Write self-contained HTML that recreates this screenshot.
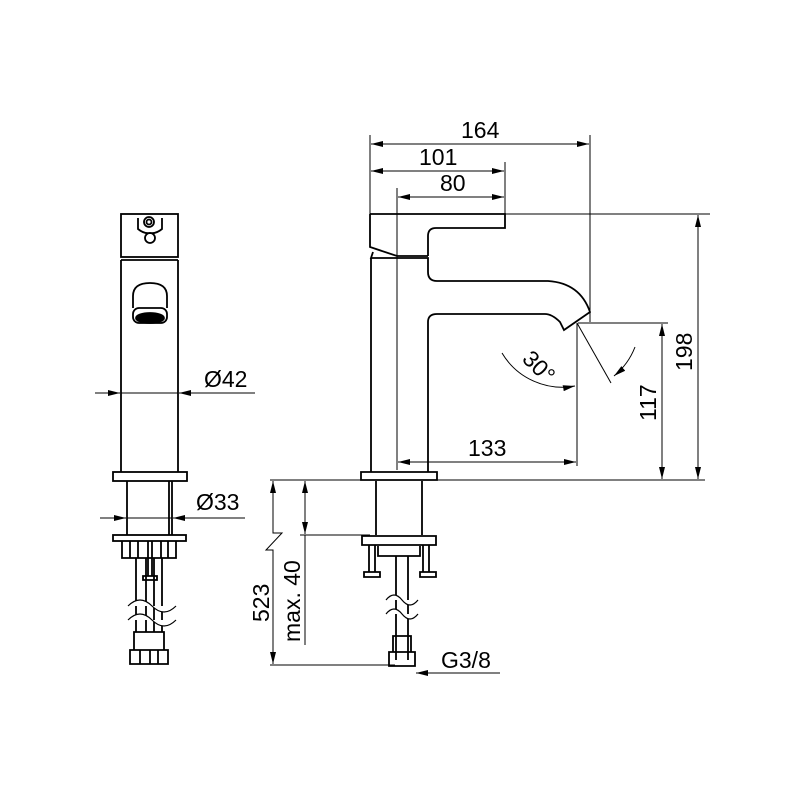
<!DOCTYPE html>
<html><head><meta charset="utf-8"><style>html,body{margin:0;padding:0;background:#fff}svg{display:block}text{font-family:"Liberation Sans",sans-serif;font-size:23px;fill:#000}</style></head><body>
<svg width="800" height="800" viewBox="0 0 800 800" xmlns="http://www.w3.org/2000/svg">
<defs>
<marker id="a" viewBox="0 0 12 6" refX="12" refY="3" markerWidth="12" markerHeight="6" orient="auto-start-reverse" markerUnits="userSpaceOnUse"><path d="M0,0L12,3L0,6Z" fill="#000"/></marker>
</defs>
<g fill="none" stroke="#000" stroke-width="1">
<line x1="370" y1="135" x2="370" y2="214"/>
<line x1="590" y1="135" x2="590" y2="322"/>
<line x1="505" y1="162" x2="505" y2="214"/>
<line x1="397" y1="188" x2="397" y2="470"/>
<line x1="371" y1="144" x2="589" y2="144" marker-start="url(#a)" marker-end="url(#a)"/>
<line x1="371" y1="171" x2="504" y2="171" marker-start="url(#a)" marker-end="url(#a)"/>
<line x1="398" y1="197" x2="504" y2="197" marker-start="url(#a)" marker-end="url(#a)"/>
<line x1="505" y1="214" x2="710" y2="214"/>
<line x1="578" y1="323" x2="668" y2="323"/>
<line x1="577" y1="323" x2="577" y2="466"/>
<line x1="398" y1="462" x2="576" y2="462" marker-start="url(#a)" marker-end="url(#a)"/>
<line x1="662" y1="324" x2="662" y2="479" marker-start="url(#a)" marker-end="url(#a)"/>
<line x1="698" y1="215" x2="698" y2="479" marker-start="url(#a)" marker-end="url(#a)"/>
<line x1="270" y1="480" x2="705" y2="480"/>
<line x1="577" y1="323" x2="611" y2="383"/>
<path d="M502,353 A70,70 0 0 0 575,386" marker-end="url(#a)"/>
<path d="M635,347 A70,70 0 0 1 614,376" marker-end="url(#a)"/>
<line x1="300" y1="535" x2="370" y2="535"/>
<line x1="270" y1="665" x2="395" y2="665"/>
<path d="M273,481 V533 L282,533 L266,550 L273,550 V664" marker-end="url(#a)"/>
<line x1="273" y1="500" x2="273" y2="481" marker-end="url(#a)"/>
<line x1="305" y1="481" x2="305" y2="534" marker-start="url(#a)" marker-end="url(#a)"/>
<line x1="305" y1="535" x2="305" y2="645"/>
<line x1="500" y1="673" x2="416" y2="673" marker-end="url(#a)"/>
<g stroke-width="1.8">
<path d="M370,214 H505 V228 H436 Q428,228 428,236 V256 M370,214 V247 L397,256 H428"/>
<path d="M371,258 V472 M373,252 L371,258 H428 V272 Q428,281 437,281 H548 Q580,283 590,312 L564,330 L560,322 Q552,314 545,314 H437 Q428,314 428,322 V472"/>
<path d="M361,472 H437 V480 H361 Z M376,481 V535 M422,481 V535 M362,536 H436 V545 H362 Z M369,545 V572 M375,545 V572 M364,572 H380 V577 H364Z M423,545 V572 M429,545 V572 M420,572 H436 V577 H420Z M378,546 V556 H420 V546"/>
<path d="M396,556 V660 M408,556 V660 M393,636 H411 V652 H393Z M389,652 H415 V666 H389Z"/>
</g>
<path d="M386,600 q8,-10 16,0 t16,0 M386,614 q8,-10 16,0 t16,0" fill="#fff" stroke-width="1.2"/>
<g stroke-width="1.8">
<rect x="121" y="214" width="57" height="43"/>
<line x1="121" y1="260" x2="178" y2="260"/>
<path d="M121,260 V472 M178,260 V472"/>
<circle cx="149" cy="222" r="5"/><circle cx="149" cy="222" r="2.5"/><circle cx="150" cy="238" r="5"/>
<path d="M138,218 V229 Q144,234 150,233 Q156,234 162,229 V218"/>
<path d="M133,308 V296 Q133,283 150,283 Q167,283 167,296 V308"/>
<rect x="133" y="308" width="34" height="15" rx="6"/>
<ellipse cx="150" cy="318" rx="14" ry="5" fill="#000"/>
<rect x="113" y="472" width="74" height="9"/>
<path d="M127,481 V535 M172,481 V535 M169,481 V535"/>
<rect x="113" y="535" width="73" height="6"/>
<path d="M122,541 V558 H176 V541 M130,541 V558 M138,541 V558 M161,541 V558 M168,541 V558 M148,541 V576 M152,541 V576 M143,576 H157 V580 H143Z"/>
<path d="M136,558 V632 M146,558 V632 M154,558 V632 M162,558 V632 M134,632 H164 V650 H134Z M130,650 H168 V664 H130Z M140,650 V664 M150,650 V664 M158,650 V664"/>
</g>
<path d="M128,606 q12,-12 24,0 t24,0 M128,620 q12,-12 24,0 t24,0" fill="#fff" stroke-width="1.2"/>
<line x1="95" y1="393" x2="120" y2="393" marker-end="url(#a)"/>
<line x1="121" y1="393" x2="178" y2="393"/>
<line x1="255" y1="393" x2="179" y2="393" marker-end="url(#a)"/>
<line x1="100" y1="518" x2="126" y2="518" marker-end="url(#a)"/>
<line x1="127" y1="518" x2="172" y2="518"/>
<line x1="245" y1="518" x2="173" y2="518" marker-end="url(#a)"/>
</g>
<text x="461" y="138">164</text>
<text x="419" y="165">101</text>
<text x="440" y="191">80</text>
<text x="468" y="456">133</text>
<text x="204" y="387">Ø42</text>
<text x="196" y="510">Ø33</text>
<text x="441" y="668">G3/8</text>
<text transform="translate(656,421) rotate(-90)">117</text>
<text transform="translate(692,371) rotate(-90)">198</text>
<text transform="translate(269,622) rotate(-90)">523</text>
<text transform="translate(300,642) rotate(-90)">max. 40</text>
<text transform="translate(521,360) rotate(45)">30°</text>
</svg>
</body></html>
